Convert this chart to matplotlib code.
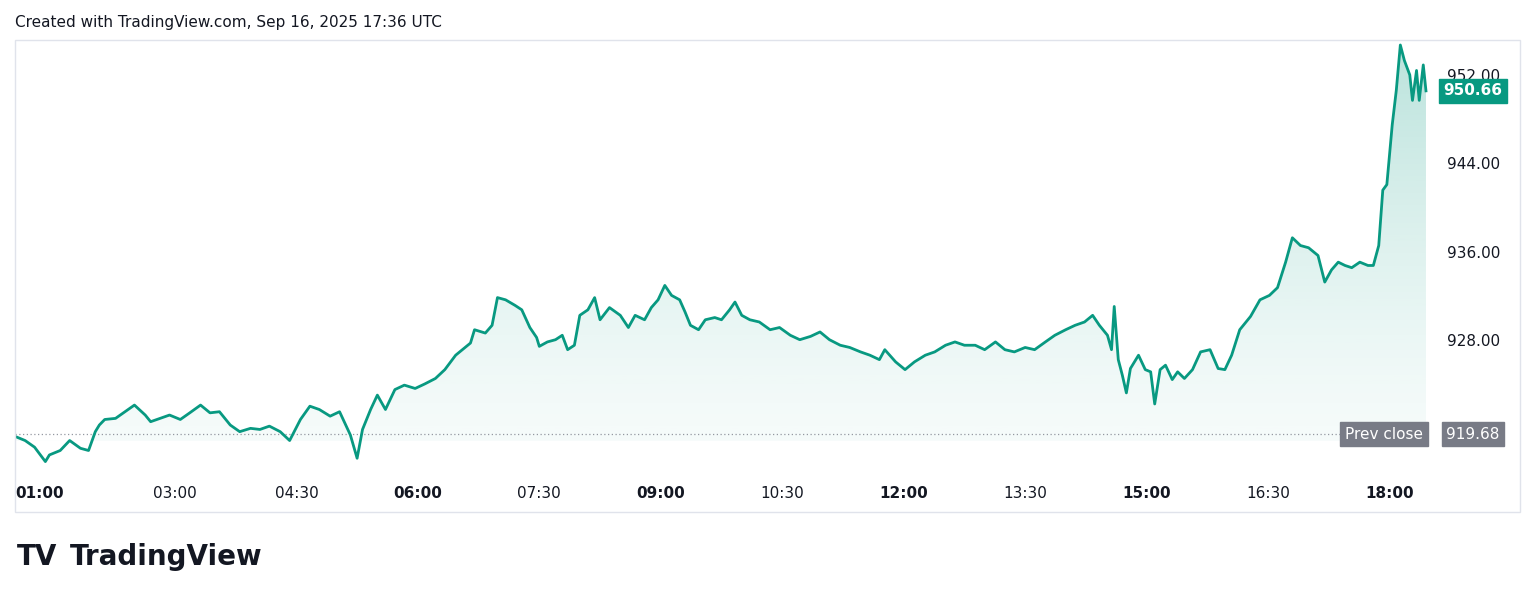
import matplotlib.pyplot as plt
import numpy as np
from matplotlib.patches import Rectangle, PathPatch
from matplotlib.path import Path

# minutes since 00:00 UTC and price
minutes = [61, 69, 76, 84, 87, 95, 102, 110, 116, 121, 124, 128, 136, 143, 150, 158, 162, 169, 176, 184,
           191, 199, 206, 213, 221, 228, 236, 243, 250, 258, 265, 273, 280, 287, 295, 302, 310, 315, 319, 325,
           330, 336, 343, 350, 358, 365, 373, 380, 388, 393, 399, 402, 410, 415, 419, 425, 432, 437, 443, 448,
           450, 456, 462, 467, 471, 476, 480, 486, 491, 495, 502, 510, 516, 521, 528, 533, 538, 543, 548, 554,
           558, 562, 568, 573, 580, 585, 591, 595, 600, 606, 613, 621, 628, 636, 643, 651, 658, 665, 673, 680,
           688, 695, 702, 706, 714, 721, 728, 736, 743, 751, 758, 765, 773, 780, 788, 795, 802, 810, 817, 825,
           832, 840, 847, 854, 860, 865, 871, 874, 876, 879, 882, 885, 888, 894, 899, 903, 906, 910, 914, 919,
           923, 928, 934, 940, 947, 953, 958, 963, 969, 977, 984, 991, 997, 1003, 1008, 1014, 1020, 1027, 1032, 1037,
           1042, 1047, 1052, 1058, 1064, 1068, 1072, 1075, 1078, 1082, 1085, 1088, 1091, 1095, 1097, 1100, 1102, 1105, 1107]
prices = [919.5, 919.1, 918.5, 917.2, 917.8, 918.2, 919.1, 918.4, 918.2, 919.9, 920.5, 921.0, 921.1, 921.7, 922.3, 921.4, 920.8, 921.1, 921.4, 921.0,
          921.6, 922.3, 921.6, 921.7, 920.5, 919.9, 920.2, 920.1, 920.4, 919.9, 919.1, 921.0, 922.2, 921.9, 921.3, 921.7, 919.6, 917.5, 920.1, 921.9,
          923.2, 921.9, 923.7, 924.1, 923.8, 924.2, 924.7, 925.5, 926.8, 927.3, 927.9, 929.1, 928.8, 929.5, 932.0, 931.8, 931.3, 930.9, 929.3, 928.4,
          927.6, 928.0, 928.2, 928.6, 927.3, 927.7, 930.4, 930.9, 932.0, 930.0, 931.1, 930.4, 929.3, 930.4, 930.0, 931.1, 931.8, 933.1, 932.2, 931.8,
          930.7, 929.5, 929.1, 930.0, 930.2, 930.0, 930.9, 931.6, 930.4, 930.0, 929.8, 929.1, 929.3, 928.6, 928.2, 928.5, 928.9, 928.2, 927.7, 927.5,
          927.1, 926.8, 926.4, 927.3, 926.2, 925.5, 926.2, 926.8, 927.1, 927.7, 928.0, 927.7, 927.7, 927.3, 928.0, 927.3, 927.1, 927.5, 927.3, 928.0,
          928.6, 929.1, 929.5, 929.8, 930.4, 929.5, 928.6, 927.3, 931.2, 926.4, 925.0, 923.4, 925.6, 926.8, 925.5, 925.3, 922.4, 925.5, 925.9, 924.6,
          925.3, 924.7, 925.5, 927.1, 927.3, 925.6, 925.5, 926.8, 929.1, 930.3, 931.8, 932.2, 932.9, 935.2, 937.4, 936.7, 936.5, 935.8, 933.4, 934.5,
          935.2, 934.9, 934.7, 935.2, 934.9, 934.9, 936.7, 941.7, 942.2, 947.6, 950.7, 954.8, 953.4, 952.1, 949.8, 952.5, 949.8, 953.0, 950.66]

prev_close = 919.68
last_price = 950.66
price_ticks = [928.00, 936.00, 944.00, 952.00]
time_ticks = ["01:00", "03:00", "04:30", "06:00", "07:30", "09:00", "10:30", "12:00", "13:30", "15:00", "16:30", "18:00"]
bold_ticks = {"01:00", "06:00", "09:00", "12:00", "15:00", "18:00"}

LINE = "#089981"
W, H = 1536, 602
fig = plt.figure(figsize=(W / 100, H / 100), dpi=100)

x0, x1, ytop, ybot = 15, 1428, 40, 512
ax = fig.add_axes([x0 / W, 1 - ybot / H, (x1 - x0) / W, (ybot - ytop) / H])
ymin, ymax = 912.65, 955.25
xmin, xmax = 61.5, 1108.5
ax.set_xlim(xmin, xmax)
ax.set_ylim(ymin, ymax)
for s in ax.spines.values():
    s.set_visible(False)
ax.set_xticks([])
ax.set_yticks([])

# gradient fill under the line
t = np.array(minutes, float)
p = np.array(prices, float)
fill_base = prev_close - 0.6
grad = np.linspace(0.0, 1.0, 256)
img = np.zeros((256, 1, 4))
img[..., 0], img[..., 1], img[..., 2] = 0x08 / 255, 0x99 / 255, 0x81 / 255
img[..., 3] = (0.04 + 0.24 * grad ** 1.3).reshape(-1, 1)
im = ax.imshow(img, extent=[xmin, xmax, fill_base, ymax], origin="lower", aspect="auto", zorder=1)
verts = list(zip(t, p)) + [(t[-1], fill_base), (t[0], fill_base)]
clip = PathPatch(Path(verts + [verts[0]], closed=True), transform=ax.transData, facecolor="none", edgecolor="none")
ax.add_patch(clip)
im.set_clip_path(clip)

ax.plot(t, p, color=LINE, lw=2.0, zorder=3, solid_joinstyle="round")
ax.axhline(prev_close, color="#9598a1", lw=0.9, ls=(0, (1, 2)), zorder=2)

# outer frame
fig.patches.append(Rectangle((x0 / W, 1 - ybot / H), (1520 - x0) / W, (ybot - ytop) / H,
                             transform=fig.transFigure, fill=False, edgecolor="#e0e3eb", lw=1))

def ypix(v):
    return ybot - (v - ymin) / (ymax - ymin) * (ybot - ytop)

FS = 11
for v in price_ticks:
    fig.text(1474 / W, 1 - ypix(v) / H, f"{v:.2f}", ha="center", va="center", fontsize=FS, color="#131722")

def xpix(label):
    h, m = label.split(":")
    return x0 + (int(h) * 60 + int(m) - xmin) / (xmax - xmin) * (x1 - x0)

for lab in time_ticks:
    xp = max(xpix(lab), 40)
    fig.text(xp / W, 1 - 493 / H, lab, ha="center", va="center", fontsize=FS, color="#131722",
             fontweight="bold" if lab in bold_ticks else "normal")

# last price box
fig.text(1473 / W, 1 - ypix(last_price) / H, f"{last_price:.2f}", ha="center", va="center", fontsize=FS,
         color="white", fontweight="bold",
         bbox=dict(boxstyle="square,pad=0.3", fc=LINE, ec=LINE))
# prev close label
fig.text(1384 / W, 1 - ypix(prev_close) / H, "Prev close", ha="center", va="center", fontsize=FS,
         color="white", bbox=dict(boxstyle="square,pad=0.3", fc="#787b86", ec="#787b86"))
fig.text(1473 / W, 1 - ypix(prev_close) / H, f"{prev_close:.2f}", ha="center", va="center", fontsize=FS,
         color="white", bbox=dict(boxstyle="square,pad=0.3", fc="#787b86", ec="#787b86"))

fig.text(15 / W, 1 - 22 / H, "Created with TradingView.com, Sep 16, 2025 17:36 UTC",
         ha="left", va="center", fontsize=11, color="#131722")
fig.text(17 / W, 1 - 557 / H, "TV", ha="left", va="center", fontsize=20, fontweight="heavy", color="#131722")
fig.text(70 / W, 1 - 557 / H, "TradingView", ha="left", va="center", fontsize=20, fontweight="bold", color="#131722")

fig.savefig("out.png", dpi=100, facecolor="white")
